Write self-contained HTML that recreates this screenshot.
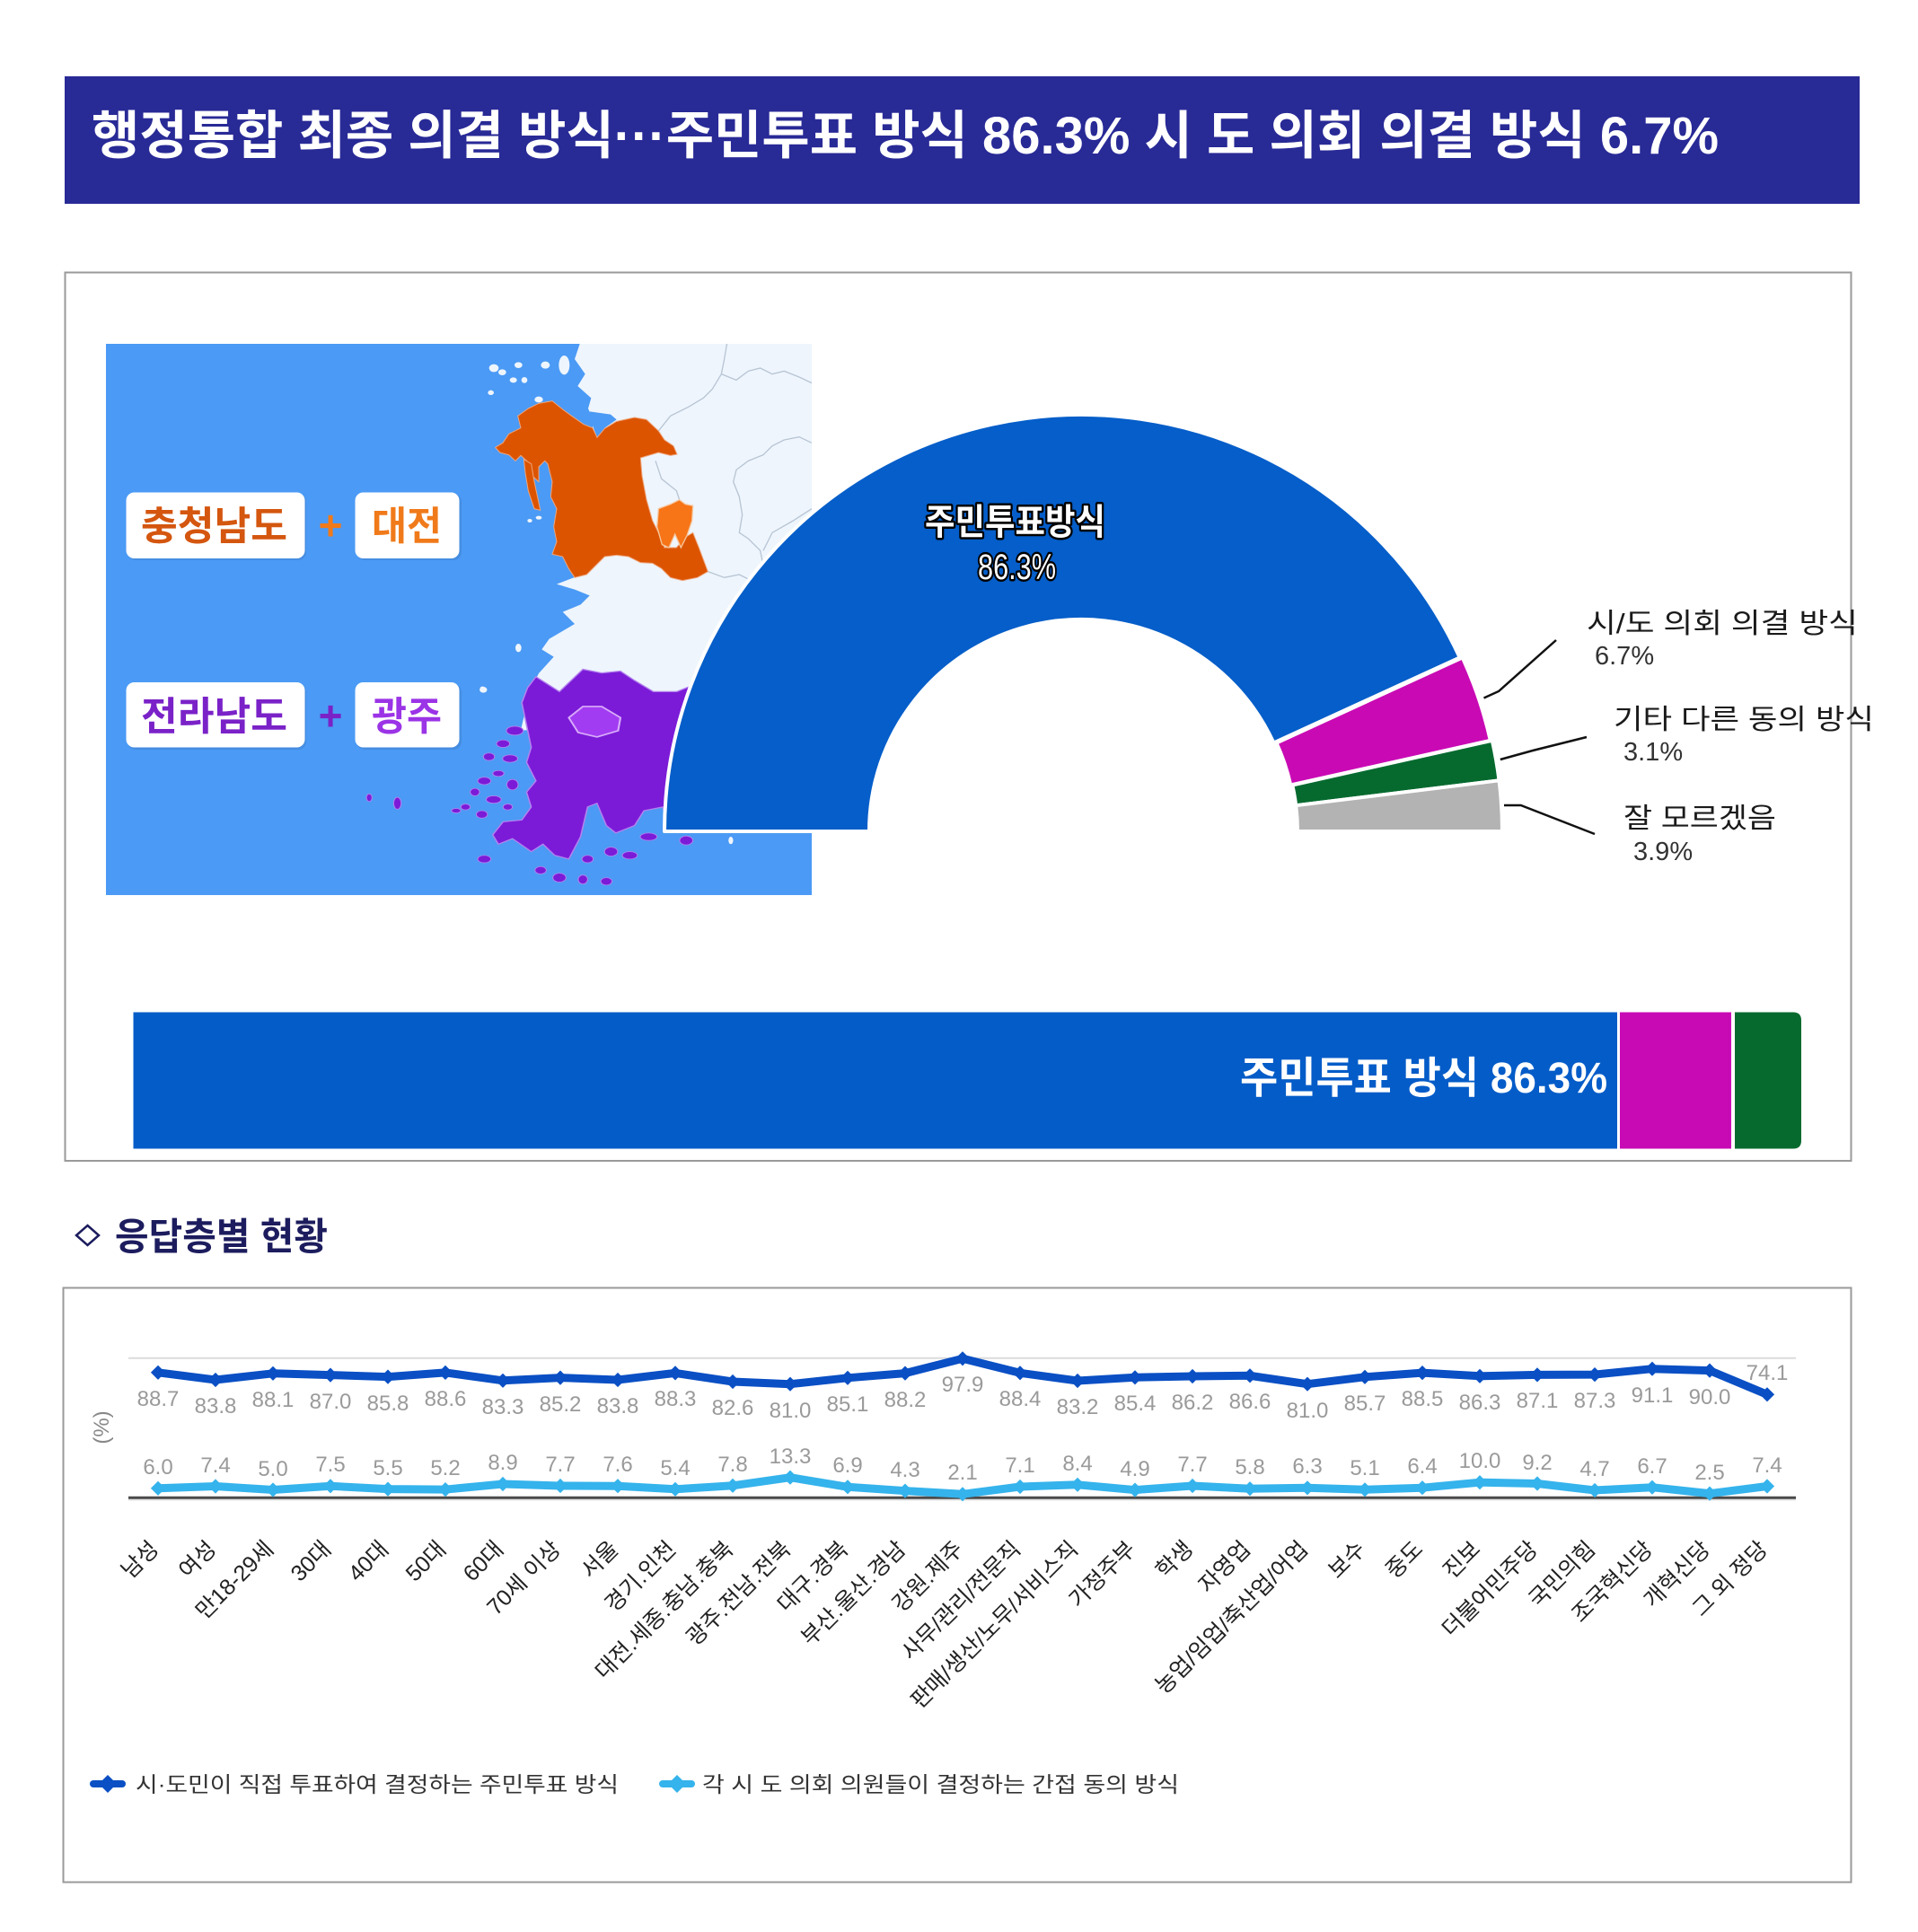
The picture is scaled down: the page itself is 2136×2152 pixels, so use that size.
<!DOCTYPE html>
<html><head><meta charset="utf-8">
<style>
html,body{margin:0;padding:0;background:#fff;width:2136px;height:2152px;overflow:hidden}
svg{display:block}
text{font-family:"Liberation Sans","Noto Sans CJK KR",sans-serif}
</style></head>
<body>
<svg width="2136" height="2152" viewBox="0 0 2136 2152" xmlns="http://www.w3.org/2000/svg">
<defs>
  <clipPath id="mapclip"><rect x="118" y="383" width="786" height="614"/></clipPath>
  <marker id="md1" viewBox="-10 -10 20 20" markerWidth="18" markerHeight="18" markerUnits="userSpaceOnUse"><polygon points="0,-9 9,0 0,9 -9,0" fill="#0a4fc4"/></marker>
  <marker id="md2" viewBox="-10 -10 20 20" markerWidth="18" markerHeight="18" markerUnits="userSpaceOnUse"><polygon points="0,-9 9,0 0,9 -9,0" fill="#35b3ec"/></marker>
</defs>
<rect width="2136" height="2152" fill="#fff"/>

<!-- Title -->
<rect x="72" y="85" width="1999" height="142" fill="#282a96"/>
<text x="102" y="171" font-size="58" font-weight="bold" fill="#fff" textLength="1812" lengthAdjust="spacingAndGlyphs">행정통합 최종 의결 방식···주민투표 방식 86.3% 시 도 의회 의결 방식 6.7%</text>

<!-- Box 1 -->
<rect x="72.5" y="303.5" width="1989" height="989.5" fill="#fff" stroke="#9a9a9a" stroke-width="2"/>

<!-- Map -->
<g clip-path="url(#mapclip)">
  <rect x="118" y="383" width="786" height="614" fill="#4b9af5"/>
  <g transform="translate(500,380) scale(0.33333)">
    <path d="M440,0 L1212,0 L1212,1300 L240,1300 L270,1170 L300,1110 L350,1055 L310,1030 L335,995 L420,945 L380,905 L440,880 L470,850 L420,830 L360,812 L430,785 L450,760 L430,700 L430,400 L480,300 L480,260 L465,225 L475,190 L430,150 L455,110 L420,60 Z" fill="#eef5fd"/>
    <path d="M470,235 L540,245 L560,262 L520,290 L495,322 L480,282 Z" fill="#4b9af5"/>
    <g fill="none" stroke="#b8c5d4" stroke-width="4">
      <polyline points="700,300 740,250 800,220 850,190 880,160 910,110 920,60 930,0"/>
      <polyline points="910,110 960,130 1000,100 1040,90 1080,110 1120,100 1170,120 1212,140"/>
      <polyline points="690,400 710,460 760,500 770,530"/>
      <polyline points="1212,340 1170,320 1120,330 1080,350 1050,380 1000,400 960,430 950,470 970,520 980,580 970,640 1000,660 1040,700 1050,750"/>
      <polyline points="865,770 920,790 970,780 1010,800"/>
      <polyline points="1212,560 1150,600 1080,640 1050,700"/>
    </g>
    <g fill="#eef5fd">
      <ellipse cx="150" cy="90" rx="16" ry="13"/><ellipse cx="178" cy="104" rx="13" ry="10"/>
      <ellipse cx="232" cy="80" rx="13" ry="10"/><ellipse cx="322" cy="80" rx="15" ry="12"/>
      <ellipse cx="252" cy="130" rx="10" ry="10"/><ellipse cx="215" cy="130" rx="12" ry="9"/>
      <ellipse cx="140" cy="172" rx="10" ry="8"/><ellipse cx="300" cy="195" rx="14" ry="10"/>
      <ellipse cx="270" cy="600" rx="8" ry="6"/><ellipse cx="300" cy="590" rx="10" ry="6"/>
      <ellipse cx="232" cy="1025" rx="10" ry="14"/><ellipse cx="112" cy="1160" rx="8" ry="6"/>
      <ellipse cx="385" cy="80" rx="18" ry="32"/>
    </g>
    <path d="M265,225 L300,208 L345,200 L380,228 L410,250 L450,278 L480,290 L495,322 L520,292 L560,268 L620,255 L660,262 L700,300 L720,330 L750,350 L762,378 L740,382 L700,372 L640,390 L645,450 L660,530 L680,600 L700,640 L720,690 L760,690 L790,655 L815,640 L835,690 L865,770 L830,790 L780,800 L740,790 L710,760 L680,742 L640,740 L600,720 L560,715 L520,720 L490,750 L460,780 L420,790 L400,760 L380,720 L345,712 L360,670 L350,620 L360,560 L340,520 L345,470 L330,410 L320,400 L300,420 L300,470 L280,452 L262,402 L240,382 L222,400 L200,380 L170,372 L155,355 L180,340 L200,310 L240,290 L230,250 Z" fill="#dc5400" stroke="#efa57c" stroke-width="3"/>
    <path d="M250,395 L275,410 L285,470 L300,540 L305,565 L285,560 L265,500 L255,440 Z" fill="#dc5400" stroke="#efa57c" stroke-width="3"/>
    <path d="M700,560 L740,545 L770,530 L790,545 L815,550 L812,600 L795,650 L775,690 L755,645 L735,690 L712,680 L695,620 Z" fill="#f77417" stroke="#f6c8a0" stroke-width="4"/>
  </g>
  <g transform="translate(100,360) scale(0.523,0.4145)">
    <path d="M950,950 L1000,990 L1050,930 L1090,940 L1130,935 L1160,960 L1200,990 L1250,990 L1290,970 L1360,990 L1360,1310 L1230,1340 L1220,1300 L1180,1310 L1160,1350 L1120,1370 L1100,1350 L1080,1290 L1060,1300 L1045,1380 L1020,1440 L990,1430 L965,1400 L940,1420 L900,1385 L870,1400 L858,1375 L880,1340 L920,1335 L940,1300 L930,1260 L950,1230 L930,1180 L940,1140 L930,1080 L920,1020 L932,980 Z" fill="#7b1bd8" stroke="#b482ee" stroke-width="3"/>
    <path d="M1020,1060 L1050,1030 L1090,1030 L1130,1060 L1125,1095 L1080,1112 L1040,1100 Z" fill="#a23cf2" stroke="#d9adfa" stroke-width="4"/>
    <g fill="#7b1bd8" stroke="#b482ee" stroke-width="2">
      <ellipse cx="905" cy="1095" rx="18" ry="12"/><ellipse cx="880" cy="1130" rx="14" ry="10"/>
      <ellipse cx="850" cy="1165" rx="12" ry="10"/><ellipse cx="895" cy="1170" rx="16" ry="10"/>
      <ellipse cx="870" cy="1210" rx="12" ry="8"/><ellipse cx="840" cy="1230" rx="14" ry="10"/>
      <ellipse cx="900" cy="1240" rx="12" ry="14"/><ellipse cx="820" cy="1260" rx="10" ry="10"/>
      <ellipse cx="860" cy="1280" rx="16" ry="10"/><ellipse cx="800" cy="1300" rx="10" ry="8"/>
      <ellipse cx="835" cy="1320" rx="12" ry="10"/><ellipse cx="780" cy="1310" rx="10" ry="6"/>
      <ellipse cx="890" cy="1300" rx="10" ry="8"/><ellipse cx="1000" cy="1490" rx="14" ry="12"/>
      <ellipse cx="1050" cy="1495" rx="10" ry="12"/><ellipse cx="1100" cy="1500" rx="12" ry="10"/>
      <ellipse cx="1150" cy="1430" rx="16" ry="10"/><ellipse cx="1190" cy="1380" rx="18" ry="10"/>
      <ellipse cx="1270" cy="1390" rx="14" ry="12"/><ellipse cx="840" cy="1440" rx="14" ry="10"/>
      <ellipse cx="655" cy="1290" rx="8" ry="16"/><ellipse cx="595" cy="1275" rx="6" ry="10"/>
      <ellipse cx="1060" cy="1440" rx="12" ry="10"/><ellipse cx="1110" cy="1420" rx="14" ry="12"/>
      <ellipse cx="960" cy="1470" rx="12" ry="10"/>
    </g>
    <ellipse cx="1365" cy="1390" rx="5" ry="10" fill="#eef5fd"/>
    <ellipse cx="838" cy="985" rx="8" ry="8" fill="#eef5fd"/>
  </g>
  <!-- label boxes -->
  <rect x="142" y="550" width="199" height="74" rx="9" fill="#000" opacity="0.08"/>
  <rect x="140.5" y="548.5" width="199" height="73.5" rx="9" fill="#fff"/>
  <rect x="397" y="550" width="117" height="74" rx="9" fill="#000" opacity="0.08"/>
  <rect x="395.5" y="548.5" width="116" height="73.5" rx="9" fill="#fff"/>
  <rect x="142" y="762" width="199" height="73" rx="9" fill="#000" opacity="0.08"/>
  <rect x="140.5" y="760" width="199" height="72.5" rx="9" fill="#fff"/>
  <rect x="397" y="762" width="117" height="73" rx="9" fill="#000" opacity="0.08"/>
  <rect x="395.5" y="760" width="116" height="72.5" rx="9" fill="#fff"/>
  <text x="157" y="601" font-size="44" font-weight="bold" fill="#d4560f" textLength="163" lengthAdjust="spacingAndGlyphs">충청남도</text>
  <text x="368" y="601" font-size="46" font-weight="bold" fill="#f07a1a" text-anchor="middle">+</text>
  <text x="414" y="601" font-size="44" font-weight="bold" fill="#f07a1a" textLength="78" lengthAdjust="spacingAndGlyphs">대전</text>
  <text x="157" y="813" font-size="44" font-weight="bold" fill="#7a22c8" textLength="163" lengthAdjust="spacingAndGlyphs">전라남도</text>
  <text x="368" y="813" font-size="46" font-weight="bold" fill="#7a22c8" text-anchor="middle">+</text>
  <text x="414" y="813" font-size="44" font-weight="bold" fill="#9b33e6" textLength="78" lengthAdjust="spacingAndGlyphs">광주</text>
</g>

<!-- Half donut -->
<g stroke="#fff" stroke-width="4" stroke-linejoin="round">
  <path d="M740,926 A464,464 0 0 1 1625.7,732.4 L1418.5,827.5 A236,236 0 0 0 968,926 Z" fill="#055ec9"/>
  <g transform="translate(3,0)"><path d="M1625.7,732.4 A464,464 0 0 1 1656.8,824.8 L1434.3,874.5 A236,236 0 0 0 1418.5,827.5 Z" fill="#c90ab4"/></g>
  <g transform="translate(5,0)"><path d="M1656.8,824.8 A464,464 0 0 1 1664.5,869.3 L1438.2,897.2 A236,236 0 0 0 1434.3,874.5 Z" fill="#066a2f"/></g>
  <g transform="translate(5,0)"><path d="M1664.5,869.3 A464,464 0 0 1 1668,926 L1440,926 A236,236 0 0 0 1438.2,897.2 Z" fill="#b3b3b3"/></g>
</g>
<text x="1030" y="595" font-size="40" font-weight="bold" fill="#fff" stroke="#000" stroke-width="5" paint-order="stroke" stroke-linejoin="round" textLength="201" lengthAdjust="spacingAndGlyphs">주민투표방식</text>
<text x="1089" y="645" font-size="40" fill="#fff" stroke="#000" stroke-width="5" paint-order="stroke" stroke-linejoin="round" textLength="87" lengthAdjust="spacingAndGlyphs">86.3%</text>

<g fill="none" stroke="#111" stroke-width="2.5">
  <polyline points="1652.5,777.5 1669,770 1733,713"/>
  <polyline points="1670.8,846 1707,836 1767,821"/>
  <polyline points="1675,897 1693.7,897 1776,929"/>
</g>
<text x="1767" y="705" font-size="31" fill="#1a1a1a" textLength="302" lengthAdjust="spacingAndGlyphs">시/도 의회 의결 방식</text>
<text x="1776" y="740" font-size="29" fill="#333">6.7%</text>
<text x="1797" y="812" font-size="31" fill="#1a1a1a" textLength="290" lengthAdjust="spacingAndGlyphs">기타 다른 동의 방식</text>
<text x="1808" y="847" font-size="29" fill="#333">3.1%</text>
<text x="1808" y="922" font-size="31" fill="#1a1a1a" textLength="170" lengthAdjust="spacingAndGlyphs">잘 모르겠음</text>
<text x="1819" y="958" font-size="29" fill="#333">3.9%</text>

<!-- Stacked bar -->
<rect x="148.5" y="1127.5" width="1652.5" height="152" fill="#045cc8"/>
<rect x="1804" y="1127.5" width="124" height="152" fill="#c80ab4"/>
<path d="M1932,1127.5 H1997 Q2006,1127.5 2006,1136.5 V1270.5 Q2006,1279.5 1997,1279.5 H1932 Z" fill="#066a2f"/>
<text x="1381" y="1217" font-size="48" font-weight="bold" fill="#fff" textLength="409" lengthAdjust="spacingAndGlyphs">주민투표 방식 86.3%</text>

<!-- Section heading -->
<polygon points="97.5,1365 110,1376 97.5,1387 85,1376" fill="none" stroke="#1c1c5e" stroke-width="2.5"/>
<text x="128" y="1392" font-size="42" font-weight="bold" fill="#1c1c5e" textLength="237" lengthAdjust="spacingAndGlyphs">응답층별 현황</text>

<!-- Line chart box -->
<rect x="70.5" y="1434.5" width="1991" height="662" fill="#fff" stroke="#9a9a9a" stroke-width="2"/>
<line x1="143" y1="1512.7" x2="2000" y2="1512.7" stroke="#dcdcdc" stroke-width="2"/>
<line x1="143" y1="1670" x2="2000" y2="1670" stroke="#e0e0e0" stroke-width="3"/>
<line x1="143" y1="1668.3" x2="2000" y2="1668.3" stroke="#4a4a4a" stroke-width="3"/>
<text transform="translate(121,1590) rotate(-90)" font-size="24" fill="#888" text-anchor="middle">(%)</text>

<polyline fill="none" stroke="#0a4fc4" stroke-width="9" stroke-linejoin="round" marker-start="url(#md1)" marker-mid="url(#md1)" marker-end="url(#md1)"
 points="176,1528.8 240,1537 304,1529.8 368,1531.6 432,1533.6 496,1528.9 560,1537.8 624,1534.6 688,1537 752,1529.4 816,1539 880,1541.7 944,1534.8 1008,1529.6 1072,1513.3 1136,1529.3 1200,1538 1264,1534.3 1328,1533 1392,1532.3 1456,1541.7 1520,1533.8 1584,1529.1 1648,1532.8 1712,1531.4 1776,1531.1 1840,1524.7 1904,1526.6 1968,1553.3"/>
<polyline fill="none" stroke="#35b3ec" stroke-width="9" stroke-linejoin="round" marker-start="url(#md2)" marker-mid="url(#md2)" marker-end="url(#md2)"
 points="176,1657.8 240,1655.5 304,1659.5 368,1655.3 432,1658.6 496,1659.1 560,1653 624,1655 688,1655.2 752,1658.8 816,1654.8 880,1645.7 944,1656.3 1008,1660.6 1072,1664.3 1136,1656 1200,1653.8 1264,1659.6 1328,1655 1392,1658.2 1456,1657.3 1520,1659.3 1584,1657.2 1648,1651.2 1712,1652.5 1776,1660 1840,1656.7 1904,1663.6 1968,1655.5"/>

<g font-size="24" fill="#9a9a9a" text-anchor="middle">
  <text x="176" y="1566">88.7</text><text x="240" y="1574">83.8</text><text x="304" y="1567">88.1</text>
  <text x="368" y="1569">87.0</text><text x="432" y="1571">85.8</text><text x="496" y="1566">88.6</text>
  <text x="560" y="1575">83.3</text><text x="624" y="1572">85.2</text><text x="688" y="1574">83.8</text>
  <text x="752" y="1566">88.3</text><text x="816" y="1576">82.6</text><text x="880" y="1579">81.0</text>
  <text x="944" y="1572">85.1</text><text x="1008" y="1567">88.2</text><text x="1072" y="1550">97.9</text>
  <text x="1136" y="1566">88.4</text><text x="1200" y="1575">83.2</text><text x="1264" y="1571">85.4</text>
  <text x="1328" y="1570">86.2</text><text x="1392" y="1569">86.6</text><text x="1456" y="1579">81.0</text>
  <text x="1520" y="1571">85.7</text><text x="1584" y="1566">88.5</text><text x="1648" y="1570">86.3</text>
  <text x="1712" y="1568">87.1</text><text x="1776" y="1568">87.3</text><text x="1840" y="1562">91.1</text>
  <text x="1904" y="1564">90.0</text><text x="1968" y="1537">74.1</text>

  <text x="176" y="1642">6.0</text><text x="240" y="1640">7.4</text><text x="304" y="1644">5.0</text>
  <text x="368" y="1639">7.5</text><text x="432" y="1643">5.5</text><text x="496" y="1643">5.2</text>
  <text x="560" y="1637">8.9</text><text x="624" y="1639">7.7</text><text x="688" y="1639">7.6</text>
  <text x="752" y="1643">5.4</text><text x="816" y="1639">7.8</text><text x="880" y="1630">13.3</text>
  <text x="944" y="1640">6.9</text><text x="1008" y="1645">4.3</text><text x="1072" y="1648">2.1</text>
  <text x="1136" y="1640">7.1</text><text x="1200" y="1638">8.4</text><text x="1264" y="1644">4.9</text>
  <text x="1328" y="1639">7.7</text><text x="1392" y="1642">5.8</text><text x="1456" y="1641">6.3</text>
  <text x="1520" y="1643">5.1</text><text x="1584" y="1641">6.4</text><text x="1648" y="1635">10.0</text>
  <text x="1712" y="1637">9.2</text><text x="1776" y="1644">4.7</text><text x="1840" y="1641">6.7</text>
  <text x="1904" y="1648">2.5</text><text x="1968" y="1640">7.4</text>
</g>

<g font-size="25" fill="#222" text-anchor="end">
  <text transform="translate(178,1727) rotate(-45)">남성</text>
  <text transform="translate(242,1727) rotate(-45)">여성</text>
  <text transform="translate(306,1727) rotate(-45)">만18-29세</text>
  <text transform="translate(370,1727) rotate(-45)">30대</text>
  <text transform="translate(434,1727) rotate(-45)">40대</text>
  <text transform="translate(498,1727) rotate(-45)">50대</text>
  <text transform="translate(562,1727) rotate(-45)">60대</text>
  <text transform="translate(626,1727) rotate(-45)">70세 이상</text>
  <text transform="translate(690,1727) rotate(-45)">서울</text>
  <text transform="translate(754,1727) rotate(-45)">경기.인천</text>
  <text transform="translate(818,1727) rotate(-45)">대전.세종.충남.충북</text>
  <text transform="translate(882,1727) rotate(-45)">광주.전남.전북</text>
  <text transform="translate(946,1727) rotate(-45)">대구.경북</text>
  <text transform="translate(1010,1727) rotate(-45)">부산.울산.경남</text>
  <text transform="translate(1074,1727) rotate(-45)">강원.제주</text>
  <text transform="translate(1138,1727) rotate(-45)">사무/관리/전문직</text>
  <text transform="translate(1202,1727) rotate(-45)">판매/생산/노무/서비스직</text>
  <text transform="translate(1266,1727) rotate(-45)">가정주부</text>
  <text transform="translate(1330,1727) rotate(-45)">학생</text>
  <text transform="translate(1394,1727) rotate(-45)">자영업</text>
  <text transform="translate(1458,1727) rotate(-45)">농업/임업/축산업/어업</text>
  <text transform="translate(1522,1727) rotate(-45)">보수</text>
  <text transform="translate(1586,1727) rotate(-45)">중도</text>
  <text transform="translate(1650,1727) rotate(-45)">진보</text>
  <text transform="translate(1714,1727) rotate(-45)">더불어민주당</text>
  <text transform="translate(1778,1727) rotate(-45)">국민의힘</text>
  <text transform="translate(1842,1727) rotate(-45)">조국혁신당</text>
  <text transform="translate(1906,1727) rotate(-45)">개혁신당</text>
  <text transform="translate(1970,1727) rotate(-45)">그 외 정당</text>
</g>

<!-- Legend -->
<line x1="104" y1="1987" x2="136" y2="1987" stroke="#0a4fc4" stroke-width="8" stroke-linecap="round"/>
<polygon points="120,1977 130,1987 120,1997 110,1987" fill="#0a4fc4"/>
<text x="151" y="1996" font-size="24" fill="#333" textLength="538" lengthAdjust="spacingAndGlyphs">시·도민이 직접 투표하여 결정하는 주민투표 방식</text>
<line x1="738" y1="1987" x2="770" y2="1987" stroke="#35b3ec" stroke-width="8" stroke-linecap="round"/>
<polygon points="754,1977 764,1987 754,1997 744,1987" fill="#35b3ec"/>
<text x="782" y="1996" font-size="24" fill="#333" textLength="531" lengthAdjust="spacingAndGlyphs">각 시 도 의회 의원들이 결정하는 간접 동의 방식</text>
</svg>
</body></html>
